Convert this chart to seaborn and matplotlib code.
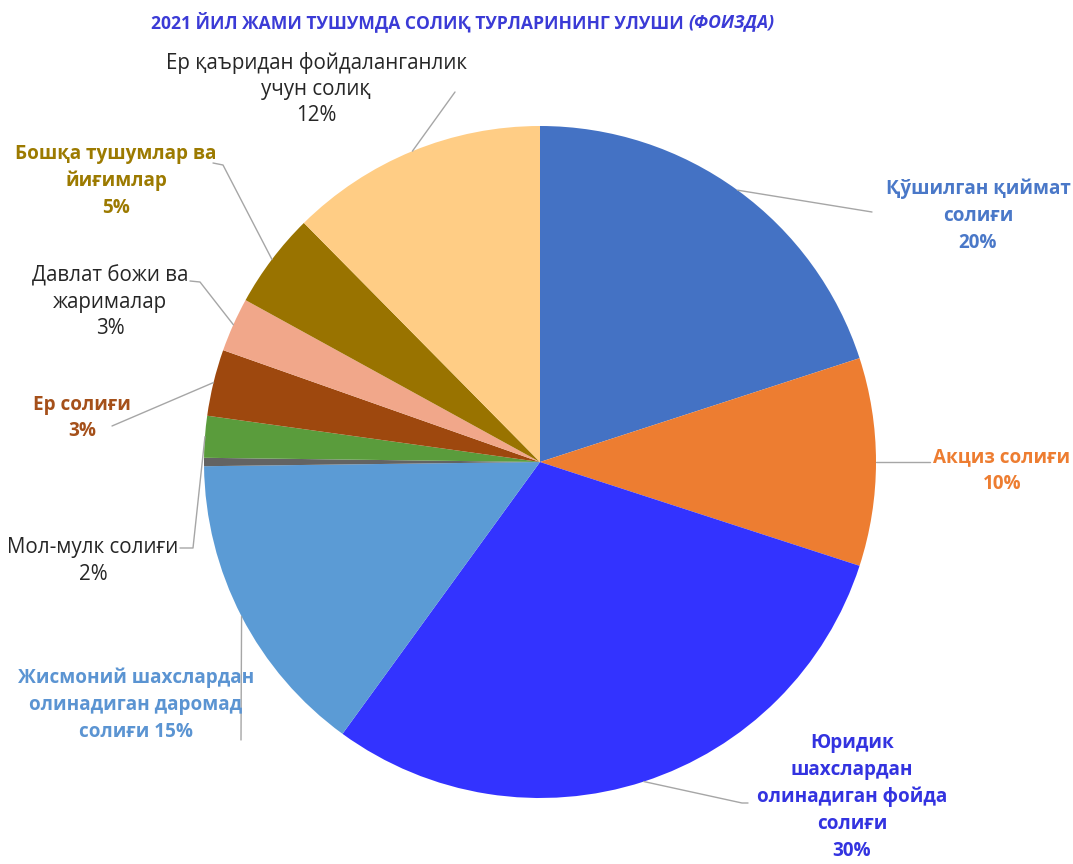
import numpy as np
import matplotlib.pyplot as plt
import seaborn as sns

# улуш, фоизда (соат стрелкаси бўйича, юқоридан)
categories = [
    "Қўшилган қиймат\nсолиғи",
    "Акциз солиғи",
    "Юридик\nшахслардан\nолинадиган фойда\nсолиғи",
    "Жисмоний шахслардан\nолинадиган даромад\nсолиғи",
    "",
    "Мол-мулк солиғи",
    "Ер солиғи",
    "Давлат божи ва\nжарималар",
    "Бошқа тушумлар ва\nйиғимлар",
    "Ер қаъридан фойдаланганлик\nучун солиқ",
]
shares = [20.0, 10.0, 30.0, 14.8, 0.4, 2.0, 3.2, 2.6, 4.6, 12.4]

slice_colors = ["#4472C4", "#ED7D31", "#3333FF", "#5B9BD5", "#636363",
                "#5A9C3C", "#9E480E", "#F1A78A", "#997300", "#FFCD85"]
label_colors = ["#4A78C8", "#ED7D31", "#3333E0", "#5B94D2", "#262626",
                "#262626", "#A5501A", "#262626", "#9C7A00", "#262626"]
label_bold = [True, True, True, True, False, False, True, False, True, False]
pct_sep = ["\n", "\n", "\n", " ", "\n", "\n", "\n", "\n", "\n", "\n"]

title_main = "2021 ЙИЛ ЖАМИ ТУШУМДА СОЛИҚ ТУРЛАРИНИНГ УЛУШИ "
title_tail = "(ФОИЗДА)"

W, H = 1073, 864
CX, CY, R = 540, 462, 336

# label block centres and leader points (pixel coords, y down)
label_pos = [(978, 216), (1002, 471), (852, 797), (136, 705), None,
             (93, 561), (82, 418), (110, 302), (116, 181), (316, 89)]
leader_pts = [
    [(872, 212)],
    [(930, 462)],
    [(742, 803), (748, 803)],
    [(241, 740)],
    None,
    [(193, 548), (180, 548)],
    [(112, 426)],
    [(200, 282), (190, 281)],
    [(223, 165), (213, 163)],
    [(455, 92)],
]

sns.set_style("white")
plt.rcParams['font.family'] = ['Open Sans', 'DejaVu Sans']

fig = plt.figure(figsize=(W / 100, H / 100), dpi=100)
ax = fig.add_axes([0, 0, 1, 1])


def px(x, y):
    return x, H - y


wedges, _ = ax.pie(shares, colors=slice_colors, startangle=90, counterclock=False,
                   center=px(CX, CY), radius=R, frame=True,
                   wedgeprops=dict(linewidth=0))
ax.set_xlim(0, W)
ax.set_ylim(0, H)
ax.set_aspect('equal')
ax.axis('off')

total = sum(shares)
for i, w in enumerate(wedges):
    if not categories[i]:
        continue
    pct = f"{shares[i] / total * 100:.0f}%"
    txt = categories[i] + pct_sep[i] + pct
    if label_bold[i]:
        fs, ls, fw = 13.6, 1.46, 'bold'
    else:
        fs, ls, fw = 14.8, 1.34, 'normal'
    ax.text(*px(*label_pos[i]), txt, ha='center', va='center',
            fontsize=fs, linespacing=ls, color=label_colors[i],
            fontweight=fw, fontstyle='normal')
    mid = np.deg2rad((w.theta1 + w.theta2) / 2)
    x0 = CX + R * np.cos(mid)
    y0 = CY - R * np.sin(mid)
    pts = [(x0, y0)] + leader_pts[i]
    xs = [p[0] for p in pts]
    ys = [H - p[1] for p in pts]
    ax.plot(xs, ys, color="#A6A6A6", lw=1)

ax.text(*px(688, 22), title_main, ha='right', va='center', fontsize=12.6,
        fontweight='bold', color="#3B3BD6")
ax.text(*px(688, 22), title_tail, ha='left', va='center', fontsize=12.6,
        fontweight='bold', fontstyle='italic', color="#3B3BD6")

fig.savefig("out.png", dpi=100)
